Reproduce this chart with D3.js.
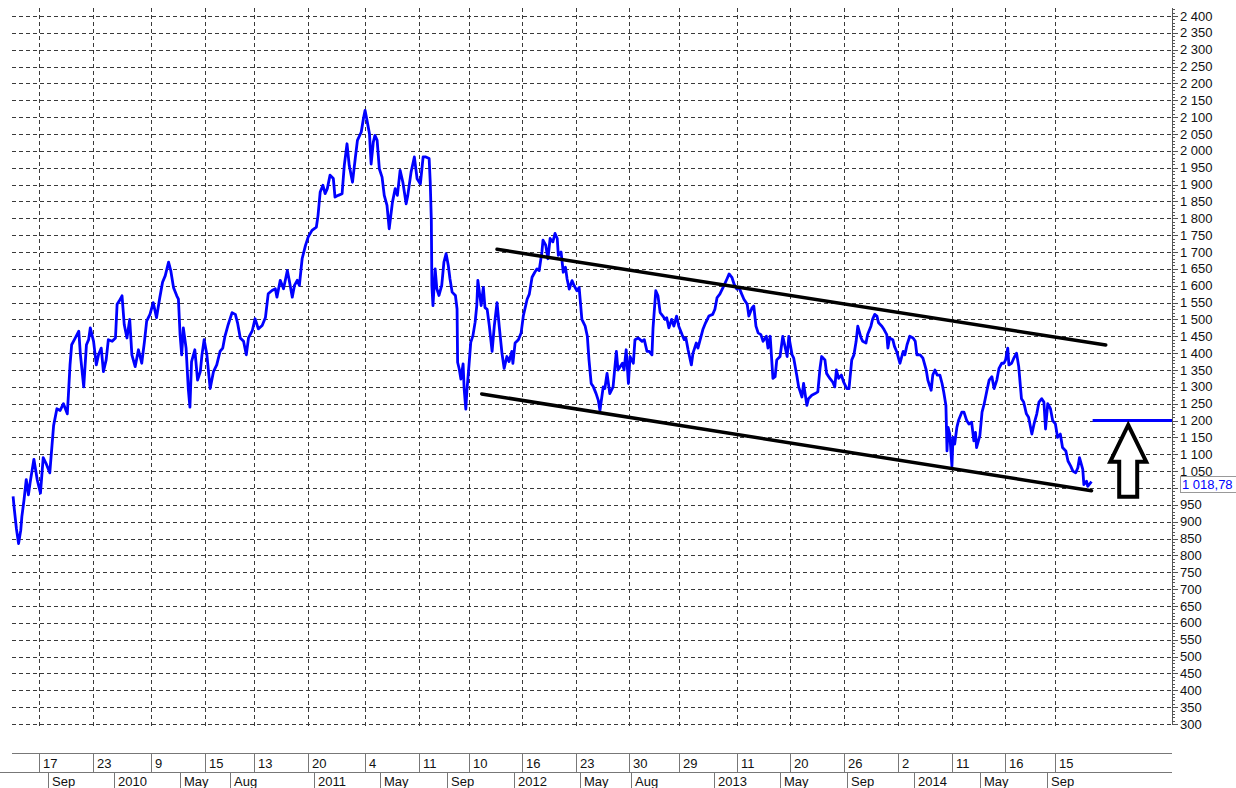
<!DOCTYPE html>
<html>
<head>
<meta charset="utf-8">
<script src="https://cdn.jsdelivr.net/npm/d3@7"></script>
<style>
  body { margin: 0; background: #fff; }
  svg { display: block; font-family: "Liberation Sans", Arial, sans-serif; }
</style>
</head>
<body>
<div id="chart"></div>
<script>
/**
 * Price series, one array per year: [date, close]
 */
var prices2009 = [
  ["2009-06-30",975],["2009-07-02",940],["2009-07-06",880],["2009-07-10",835],["2009-07-14",875],
  ["2009-07-16",915],["2009-07-20",965],["2009-07-24",1025],["2009-07-28",980],["2009-07-31",1015],
  ["2009-08-07",1085],["2009-08-13",1025],["2009-08-19",985],["2009-08-24",1090],["2009-08-30",1070],
  ["2009-09-05",1045],["2009-09-09",1125],["2009-09-12",1185],["2009-09-18",1235],["2009-09-24",1230],
  ["2009-09-30",1250],["2009-10-07",1220],["2009-10-09",1275],["2009-10-12",1365],["2009-10-15",1425],
  ["2009-10-20",1440],["2009-10-28",1465],["2009-10-31",1395],["2009-11-06",1300],["2009-11-11",1425],
  ["2009-11-15",1440],["2009-11-18",1475],["2009-11-24",1435],["2009-11-29",1365],["2009-12-03",1395],
  ["2009-12-08",1415],["2009-12-12",1345],["2009-12-17",1380],["2009-12-21",1440],["2009-12-28",1435]
];
var prices2010 = [
  ["2010-01-03",1445],["2010-01-06",1545],["2010-01-10",1555],["2010-01-15",1570],["2010-01-19",1485],
  ["2010-01-24",1445],["2010-01-29",1500],["2010-02-02",1395],["2010-02-08",1360],["2010-02-14",1410],
  ["2010-02-20",1370],["2010-02-25",1435],["2010-03-01",1495],["2010-03-07",1515],["2010-03-13",1550],
  ["2010-03-19",1505],["2010-03-25",1565],["2010-03-30",1610],["2010-04-04",1630],["2010-04-10",1670],
  ["2010-04-14",1645],["2010-04-19",1595],["2010-04-25",1570],["2010-04-28",1560],["2010-05-01",1455],
  ["2010-05-04",1395],["2010-05-07",1475],["2010-05-12",1415],["2010-05-16",1295],["2010-05-19",1240],
  ["2010-05-22",1375],["2010-05-28",1410],["2010-06-02",1320],["2010-06-07",1345],["2010-06-10",1395],
  ["2010-06-14",1440],["2010-06-19",1395],["2010-06-25",1295],["2010-07-01",1345],["2010-07-07",1365],
  ["2010-07-13",1405],["2010-07-18",1415],["2010-07-22",1450],["2010-07-28",1485],["2010-08-04",1520],
  ["2010-08-10",1515],["2010-08-14",1490],["2010-08-19",1445],["2010-08-25",1435],["2010-08-30",1395],
  ["2010-09-03",1445],["2010-09-10",1467],["2010-09-15",1502],["2010-09-21",1472],["2010-09-28",1482],
  ["2010-10-04",1506],["2010-10-09",1576],["2010-10-16",1586],["2010-10-22",1591],["2010-10-25",1566],
  ["2010-10-31",1616],["2010-11-06",1591],["2010-11-13",1645],["2010-11-17",1611],["2010-11-22",1566],
  ["2010-11-26",1601],["2010-12-01",1616],["2010-12-05",1601],["2010-12-10",1680],["2010-12-16",1719],
  ["2010-12-21",1744],["2010-12-28",1764]
];
var prices2011 = [
  ["2011-01-05",1774],["2011-01-08",1808],["2011-01-12",1878],["2011-01-17",1898],["2011-01-21",1873],
  ["2011-01-25",1888],["2011-01-30",1928],["2011-02-05",1918],["2011-02-08",1863],["2011-02-14",1868],
  ["2011-02-21",1873],["2011-02-25",1957],["2011-03-02",2021],["2011-03-06",1957],["2011-03-12",1907],
  ["2011-03-17",1977],["2011-03-21",2031],["2011-03-28",2056],["2011-04-01",2096],["2011-04-04",2120],
  ["2011-04-08",2086],["2011-04-12",2051],["2011-04-15",1961],["2011-04-19",2026],["2011-04-22",2046],
  ["2011-04-26",2031],["2011-04-30",1947],["2011-05-05",1922],["2011-05-09",1868],["2011-05-14",1838],
  ["2011-05-18",1769],["2011-05-24",1848],["2011-05-29",1888],["2011-06-02",1868],["2011-06-07",1942],
  ["2011-06-12",1907],["2011-06-18",1843],["2011-06-21",1868],["2011-06-27",1937],["2011-07-03",1982],
  ["2011-07-08",1917],["2011-07-14",1902],["2011-07-19",1982],["2011-07-24",1982],["2011-07-30",1977],
  ["2011-08-01",1907],["2011-08-03",1794],["2011-08-04",1601],["2011-08-06",1541],["2011-08-10",1650],
  ["2011-08-13",1591],["2011-08-17",1571],["2011-08-22",1601],["2011-08-26",1670],["2011-08-30",1695],
  ["2011-09-03",1660],["2011-09-06",1621],["2011-09-10",1581],["2011-09-16",1571],["2011-09-19",1531],
  ["2011-09-20",1373],["2011-09-23",1353],["2011-09-26",1323],["2011-09-30",1368],["2011-10-02",1293],
  ["2011-10-05",1234],["2011-10-07",1289],["2011-10-11",1368],["2011-10-14",1432],["2011-10-18",1452],
  ["2011-10-22",1492],["2011-10-25",1541],["2011-10-27",1616],["2011-11-02",1541],["2011-11-06",1595],
  ["2011-11-09",1535],["2011-11-13",1530],["2011-11-17",1480],["2011-11-22",1405],["2011-11-26",1480],
  ["2011-12-01",1550],["2011-12-05",1480],["2011-12-10",1400],["2011-12-14",1355],["2011-12-19",1390],
  ["2011-12-23",1375],["2011-12-28",1405],["2011-12-30",1370]
];
var prices2012 = [
  ["2012-01-03",1430],["2012-01-09",1440],["2012-01-14",1460],["2012-01-18",1510],["2012-01-25",1560],
  ["2012-01-29",1575],["2012-02-03",1625],["2012-02-08",1640],["2012-02-12",1650],["2012-02-16",1645],
  ["2012-02-21",1700],["2012-02-23",1735],["2012-02-28",1720],["2012-03-03",1680],["2012-03-07",1740],
  ["2012-03-12",1730],["2012-03-16",1755],["2012-03-20",1740],["2012-03-22",1690],["2012-03-27",1700],
  ["2012-03-31",1640],["2012-04-04",1655],["2012-04-07",1620],["2012-04-11",1590],["2012-04-16",1615],
  ["2012-04-20",1600],["2012-04-25",1585],["2012-04-29",1595],["2012-05-04",1500],["2012-05-10",1480],
  ["2012-05-14",1450],["2012-05-17",1380],["2012-05-21",1310],["2012-05-25",1300],["2012-05-30",1280],
  ["2012-06-03",1260],["2012-06-06",1230],["2012-06-12",1300],["2012-06-15",1295],["2012-06-19",1340],
  ["2012-06-24",1280],["2012-06-30",1300],["2012-07-06",1405],["2012-07-09",1350],["2012-07-17",1370],
  ["2012-07-20",1350],["2012-07-24",1410],["2012-07-28",1310],["2012-07-31",1390],["2012-08-06",1370],
  ["2012-08-09",1440],["2012-08-15",1445],["2012-08-22",1435],["2012-08-26",1440],["2012-08-31",1405],
  ["2012-09-04",1405],["2012-09-09",1395],["2012-09-11",1475],["2012-09-16",1585],["2012-09-20",1570],
  ["2012-09-24",1520],["2012-09-29",1510],["2012-10-03",1500],["2012-10-06",1505],["2012-10-10",1475],
  ["2012-10-15",1500],["2012-10-19",1480],["2012-10-24",1510],["2012-10-28",1480],["2012-11-03",1455],
  ["2012-11-07",1440],["2012-11-10",1445],["2012-11-14",1410],["2012-11-20",1365],["2012-11-23",1400],
  ["2012-11-29",1430],["2012-12-02",1415],["2012-12-07",1445],["2012-12-11",1470],["2012-12-16",1490],
  ["2012-12-22",1510],["2012-12-29",1515]
];
var prices2013 = [
  ["2013-01-02",1530],["2013-01-06",1565],["2013-01-11",1575],["2013-01-17",1595],["2013-01-24",1620],
  ["2013-01-28",1635],["2013-02-02",1625],["2013-02-06",1605],["2013-02-11",1590],["2013-02-15",1595],
  ["2013-02-20",1575],["2013-02-24",1560],["2013-03-02",1545],["2013-03-05",1510],["2013-03-11",1535],
  ["2013-03-14",1540],["2013-03-18",1480],["2013-03-22",1460],["2013-03-27",1455],["2013-03-31",1435],
  ["2013-04-06",1450],["2013-04-09",1415],["2013-04-13",1450],["2013-04-18",1325],["2013-04-22",1330],
  ["2013-04-25",1380],["2013-05-01",1390],["2013-05-06",1450],["2013-05-10",1420],["2013-05-14",1390],
  ["2013-05-17",1450],["2013-05-23",1395],["2013-05-26",1385],["2013-06-01",1330],["2013-06-04",1300],
  ["2013-06-10",1270],["2013-06-13",1310],["2013-06-19",1245],["2013-06-22",1265],["2013-06-28",1275],
  ["2013-07-04",1280],["2013-07-09",1285],["2013-07-13",1355],["2013-07-16",1390],["2013-07-22",1380],
  ["2013-07-25",1340],["2013-07-31",1325],["2013-08-05",1315],["2013-08-09",1300],["2013-08-12",1350],
  ["2013-08-16",1325],["2013-08-21",1335],["2013-08-25",1315],["2013-08-31",1295],["2013-09-04",1295],
  ["2013-09-09",1380],["2013-09-13",1395],["2013-09-17",1435],["2013-09-20",1480],["2013-09-26",1445],
  ["2013-09-29",1435],["2013-10-05",1430],["2013-10-08",1455],["2013-10-14",1480],["2013-10-17",1500],
  ["2013-10-21",1515],["2013-10-25",1510],["2013-10-28",1490],["2013-11-03",1480],["2013-11-07",1470],
  ["2013-11-12",1455],["2013-11-14",1415],["2013-11-17",1445],["2013-11-23",1440],["2013-11-26",1420],
  ["2013-11-30",1405],["2013-12-06",1370],["2013-12-12",1405],["2013-12-15",1395],["2013-12-19",1425],
  ["2013-12-24",1450],["2013-12-30",1445]
];
var prices2014 = [
  ["2014-01-03",1435],["2014-01-06",1395],["2014-01-12",1395],["2014-01-17",1385],["2014-01-23",1350],
  ["2014-01-26",1320],["2014-02-01",1290],["2014-02-04",1335],["2014-02-08",1350],["2014-02-12",1335],
  ["2014-02-17",1335],["2014-02-21",1310],["2014-02-24",1285],["2014-02-28",1245],["2014-03-02",1110],
  ["2014-03-04",1180],["2014-03-07",1160],["2014-03-11",1065],["2014-03-13",1150],["2014-03-16",1130],
  ["2014-03-20",1180],["2014-03-23",1200],["2014-03-29",1225],["2014-04-02",1225],["2014-04-07",1200],
  ["2014-04-11",1190],["2014-04-16",1195],["2014-04-20",1140],["2014-04-23",1165],["2014-04-25",1120],
  ["2014-05-01",1155],["2014-05-05",1225],["2014-05-09",1250],["2014-05-14",1290],["2014-05-18",1320],
  ["2014-05-23",1330],["2014-05-27",1295],["2014-06-01",1320],["2014-06-05",1355],["2014-06-10",1370],
  ["2014-06-14",1370],["2014-06-17",1380],["2014-06-21",1415],["2014-06-23",1365],["2014-06-28",1370],
  ["2014-07-02",1385],["2014-07-07",1400],["2014-07-11",1360],["2014-07-16",1265],["2014-07-20",1255],
  ["2014-07-25",1220],["2014-07-29",1210],["2014-08-04",1160],["2014-08-08",1190],["2014-08-13",1220],
  ["2014-08-17",1255],["2014-08-22",1265],["2014-08-26",1255],["2014-08-29",1175],["2014-09-02",1250],
  ["2014-09-07",1235],["2014-09-11",1200],["2014-09-16",1190],["2014-09-20",1150],["2014-09-25",1160],
  ["2014-09-29",1120],["2014-10-05",1110],["2014-10-09",1080],["2014-10-14",1065],["2014-10-18",1050],
  ["2014-10-23",1045],["2014-10-27",1060],["2014-10-30",1090],["2014-11-05",1055],["2014-11-07",1010],
  ["2014-11-12",1020],["2014-11-14",1005],["2014-11-21",1018.78]
];

// channel lines drawn on the chart: [date, value] start and end
var upperTrend = [["2011-12-01",1708],["2014-12-17",1424]];
var lowerTrend = [["2011-11-03",1279],["2014-11-21",992]];
// target level and the arrow pointing up to it
var targetLevel = 1200;
var targetStart = "2014-11-23";
var arrowDate = "2015-01-27";
var arrowValues = {tip: 1187, head: 1078, base: 974};

// x axis labels: day row (grid dates) and month/year row
var gridDates = ["2009-08-17","2009-11-23","2010-03-09","2010-06-15","2010-09-13","2010-12-20",
  "2011-04-04","2011-07-11","2011-10-10","2012-01-16","2012-04-23","2012-07-30","2012-10-29",
  "2013-02-11","2013-05-20","2013-08-26","2013-12-02","2014-03-11","2014-06-16","2014-09-15"];
var monthDates = ["2009-09-01","2010-01-01","2010-05-01","2010-08-01","2011-01-01","2011-05-01",
  "2011-09-01","2012-01-01","2012-05-01","2012-08-01","2013-01-01","2013-05-01","2013-09-01",
  "2014-01-01","2014-05-01","2014-09-01"];
var dateRange = ["2009-06-28","2015-04-17"];
var valueRange = [300, 2400];

var _width = 1236, _height = 788;
var plot = {left: 12, right: 1172, top: 8, bottom: 724};
var fontSize = 13;

var parseDate = d3.timeParse("%Y-%m-%d");
var prices = [].concat(prices2009, prices2010, prices2011, prices2012, prices2013, prices2014)
  .map(function(d) { return {date: parseDate(d[0]), value: d[1]}; });

var fiLocale = d3.formatLocale({decimal: ",", thousands: " ", grouping: [3], currency: ["", ""]});
var fmtInt = fiLocale.format(",d");
var fmtLast = fiLocale.format(",.2f");

var _xRange = d3.scaleTime()
  .domain(dateRange.map(parseDate))
  .range([plot.left, plot.right]);
var _yRange = d3.scaleLinear()
  .domain(valueRange)
  .range([724, 16]);

var svg = d3.select("#chart").append("svg")
  .attr("width", _width)
  .attr("height", _height);

svg.append("rect").attr("width", _width).attr("height", _height).attr("fill", "#fff");

var last = prices[prices.length - 1];
var lastY = Math.round(_yRange(last.value));

// horizontal dashed grid, one every 50
var yTicks = d3.range(valueRange[0], valueRange[1] + 1, 50);
svg.append("g").selectAll("line")
  .data(yTicks)
  .join("line")
  .attr("x1", plot.left).attr("x2", plot.right - 1)
  .attr("y1", function(d) { return Math.round(_yRange(d)) + 0.5; })
  .attr("y2", function(d) { return Math.round(_yRange(d)) + 0.5; })
  .attr("stroke", "#3a3a3a").attr("stroke-dasharray", "4,3");

// vertical dashed grid at the day labels
svg.append("g").selectAll("line")
  .data(gridDates.map(parseDate))
  .join("line")
  .attr("x1", function(d) { return Math.round(_xRange(d)) + 0.5; })
  .attr("x2", function(d) { return Math.round(_xRange(d)) + 0.5; })
  .attr("y1", plot.top).attr("y2", plot.bottom + 3)
  .attr("stroke", "#3a3a3a").attr("stroke-dasharray", "4,3");

// right value axis, a ruler with a tick every 10
var axis = svg.append("g");
axis.append("line")
  .attr("x1", plot.right + 0.5).attr("x2", plot.right + 0.5)
  .attr("y1", plot.top).attr("y2", plot.bottom + 1)
  .attr("stroke", "#555");
axis.selectAll("line.minor")
  .data(d3.range(valueRange[0], 2421, 10))
  .join("line").attr("class", "minor")
  .attr("x1", plot.right).attr("x2", function(d) { return plot.right + (d % 50 == 0 ? 6 : 3); })
  .attr("y1", function(d) { return Math.round(_yRange(d)) + 0.5; })
  .attr("y2", function(d) { return Math.round(_yRange(d)) + 0.5; })
  .attr("stroke", "#555");
// labels hidden behind the last-price box are left out, as in the source
axis.selectAll("text")
  .data(yTicks.filter(function(d) { return Math.abs(_yRange(d) - lastY) > 9; }))
  .join("text")
  .attr("x", plot.right + 8)
  .attr("y", function(d) { return _yRange(d) + 4.5; })
  .attr("font-size", fontSize)
  .attr("fill", "#111")
  .text(function(d) { return fmtInt(d); });

// price line
var line = d3.line()
  .x(function(d) { return _xRange(d.date); })
  .y(function(d) { return _yRange(d.value); });
svg.append("path")
  .datum(prices)
  .attr("d", line)
  .attr("fill", "none")
  .attr("stroke", "#0000ff")
  .attr("stroke-width", 2.8)
  .attr("stroke-linejoin", "round");

// channel
var trendLine = d3.line()
  .x(function(d) { return _xRange(parseDate(d[0])); })
  .y(function(d) { return _yRange(d[1]); });
[upperTrend, lowerTrend].forEach(function(t) {
  svg.append("path")
    .attr("d", trendLine(t))
    .attr("stroke", "#000")
    .attr("stroke-width", 3.5)
    .attr("stroke-linecap", "round");
});

// target level
svg.append("line")
  .attr("x1", _xRange(parseDate(targetStart))).attr("x2", plot.right)
  .attr("y1", _yRange(targetLevel)).attr("y2", _yRange(targetLevel))
  .attr("stroke", "#0000ff").attr("stroke-width", 3);

// hollow arrow
var ax = _xRange(parseDate(arrowDate));
var yTip = _yRange(arrowValues.tip), yHead = _yRange(arrowValues.head), yBase = _yRange(arrowValues.base);
var headHalf = 18, shaftHalf = 9;
svg.append("path")
  .attr("d", "M" + ax + "," + yTip +
    "L" + (ax + headHalf) + "," + yHead +
    "L" + (ax + shaftHalf) + "," + yHead +
    "L" + (ax + shaftHalf) + "," + yBase +
    "L" + (ax - shaftHalf) + "," + yBase +
    "L" + (ax - shaftHalf) + "," + yHead +
    "L" + (ax - headHalf) + "," + yHead + "Z")
  .attr("fill", "#fff")
  .attr("stroke", "#000")
  .attr("stroke-width", 4)
  .attr("stroke-linejoin", "miter");

// last price label
svg.append("rect")
  .attr("x", plot.right + 8.5).attr("y", lastY - 5.5)
  .attr("width", 56).attr("height", 16)
  .attr("fill", "#fff").attr("stroke", "#999");
svg.append("text")
  .attr("x", plot.right + 10).attr("y", lastY + 7)
  .attr("font-size", fontSize).attr("fill", "#0000ff")
  .text(fmtLast(last.value));

// date axis: two rows of boxed labels
var dax = svg.append("g").attr("font-size", fontSize).attr("fill", "#111");
var rowTop = 753, rowMid = 772, rowBot = 788;
dax.append("line").attr("x1", plot.left).attr("x2", plot.right)
  .attr("y1", rowTop + 0.5).attr("y2", rowTop + 0.5).attr("stroke", "#777");
dax.append("line").attr("x1", 0).attr("x2", plot.right)
  .attr("y1", rowMid + 0.5).attr("y2", rowMid + 0.5).attr("stroke", "#777");
dax.selectAll("line.day")
  .data(gridDates.map(parseDate))
  .join("line").attr("class", "day")
  .attr("x1", function(d) { return Math.round(_xRange(d)) + 0.5; })
  .attr("x2", function(d) { return Math.round(_xRange(d)) + 0.5; })
  .attr("y1", rowTop).attr("y2", rowMid)
  .attr("stroke", "#777");
dax.selectAll("text.day")
  .data(gridDates.map(parseDate))
  .join("text").attr("class", "day")
  .attr("x", function(d) { return Math.round(_xRange(d)) + 4; })
  .attr("y", rowMid - 4)
  .text(d3.timeFormat("%-d"));
dax.selectAll("line.month")
  .data(monthDates.map(parseDate))
  .join("line").attr("class", "month")
  .attr("x1", function(d) { return Math.round(_xRange(d)) + 0.5; })
  .attr("x2", function(d) { return Math.round(_xRange(d)) + 0.5; })
  .attr("y1", rowMid).attr("y2", rowBot)
  .attr("stroke", "#777");
dax.selectAll("text.month")
  .data(monthDates.map(parseDate))
  .join("text").attr("class", "month")
  .attr("x", function(d) { return Math.round(_xRange(d)) + 4; })
  .attr("y", rowBot - 2)
  .text(function(d) { return d.getMonth() == 0 ? d3.timeFormat("%Y")(d) : d3.timeFormat("%b")(d); });
</script>
</body>
</html>
